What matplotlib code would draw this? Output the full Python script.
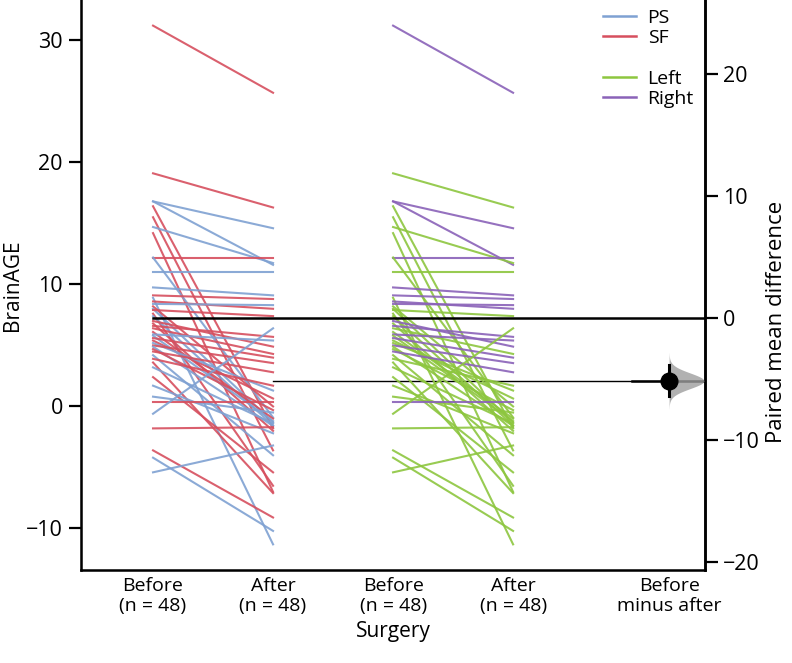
import matplotlib.pyplot as plt
import numpy as np
from matplotlib.lines import Line2D

plt.rcParams['font.family'] = ['Open Sans', 'DejaVu Sans']

# paired BrainAGE values
before = [31.2, 19.1, 16.8, 16.8, 16.4, 15.5, 14.7, 14.2, 12.2, 12.2,
          11.0, 9.75, 9.1, 8.9, 8.6, 8.4, 8.2, 8.0, 7.9, 7.6,
          7.4, 7.0, 6.8, 6.6, 6.4, 6.1, 5.9, 5.8, 5.6, 5.4,
          5.2, 5.0, 4.9, 4.7, 4.5, 4.2, 3.9, 3.6, 3.2, 2.4,
          1.7, 0.8, 0.35, -0.6, -1.8, -3.6, -4.2, -5.4]
after = [25.7, 16.3, 14.6, 11.6, -1.8, -3.6, 11.75, -7.0, 12.2, -0.9,
         11.0, 9.1, 8.8, -11.3, 8.0, 8.3, 0.0, -1.3, 7.4, -6.5,
         -1.55, 4.9, -2.0, 5.7, 4.3, -1.0, 5.4, -1.2, 4.0, 0.65,
         1.3, 3.55, -1.6, -0.3, 2.8, -4.0, 1.7, -7.1, -1.4, -5.4,
         -2.2, -0.5, 0.35, 6.4, -1.7, -9.1, -10.2, -3.2]
surgery = ["SF", "SF", "PS", "PS", "SF", "SF", "PS", "SF", "SF", "PS",
           "PS", "PS", "SF", "PS", "SF", "PS", "SF", "PS", "SF", "SF",
           "PS", "SF", "SF", "SF", "SF", "SF", "PS", "PS", "SF", "SF",
           "PS", "SF", "PS", "SF", "SF", "PS", "SF", "SF", "PS", "SF",
           "PS", "PS", "SF", "PS", "SF", "SF", "PS", "PS"]
side = ["Right", "Left", "Right", "Right", "Left", "Left", "Left", "Left", "Right", "Left",
        "Left", "Right", "Right", "Left", "Right", "Right", "Left", "Left", "Left", "Left",
        "Left", "Right", "Left", "Right", "Left", "Left", "Right", "Left", "Right", "Left",
        "Left", "Right", "Left", "Left", "Right", "Left", "Left", "Left", "Left", "Left",
        "Left", "Left", "Right", "Left", "Left", "Left", "Left", "Left"]

# 95% CI of paired mean difference
ci = [-6.4, -3.9]

colors = {"PS": "#7FA1D2", "SF": "#D64F5E", "Left": "#8DC63F", "Right": "#8A62B8"}
xpos = [0, 1, 2, 3, 4.3]
xlabels = ["Before\n(n = 48)", "After\n(n = 48)", "Before\n(n = 48)",
           "After\n(n = 48)", "Before\nminus after"]

fig = plt.figure(figsize=(7.92, 6.63), dpi=100)
ax = fig.add_axes([0.1023, 0.1403, 0.788, 0.8597])

for b, a, s in zip(before, after, surgery):
    ax.plot([xpos[0], xpos[1]], [b, a], color=colors[s], lw=1.5, alpha=0.9, zorder=3)
for b, a, s in zip(before, after, side):
    ax.plot([xpos[2], xpos[3]], [b, a], color=colors[s], lw=1.5, alpha=0.9, zorder=3)

mb = np.mean(before)
ma = np.mean(after)
ax.set_xlim(-0.6, 4.6)
ax.set_ylim(-13.4, 33.3)
ax.plot([xpos[0], 4.6], [mb, mb], color="black", lw=1.8, zorder=4)
ax.plot([xpos[1], 4.6], [ma, ma], color="black", lw=1.0, zorder=2)
ax.plot([3.99, 4.6], [ma, ma], color="black", lw=1.8, zorder=4)

ax.set_xticks(xpos)
ax.set_xticklabels(xlabels, fontsize=14, linespacing=1.15)
ax.tick_params(axis="x", length=0, pad=5)
ax.tick_params(axis="y", length=9, width=1.6, labelsize=15.5, pad=4)
ax.set_yticks([-10, 0, 10, 20, 30])
ax.set_ylabel("BrainAGE", fontsize=15, labelpad=2)
ax.set_xlabel("Surgery", fontsize=15)
ax.xaxis.set_label_coords(0.5, -0.09)
ax.spines["top"].set_visible(False)
for sp in ["left", "bottom", "right"]:
    ax.spines[sp].set_linewidth(1.8)

# effect size axis
ax2 = ax.twinx()
ax2.set_ylim(-13.4 - mb, 33.3 - mb)
diff = ma - mb
sd = (ci[1] - ci[0]) / 3.92
yy = np.linspace(diff - 3.6 * sd, diff + 3.6 * sd, 200)
ww = 0.29 * np.exp(-0.5 * ((yy - diff) / sd) ** 2)
ax2.fill_betweenx(yy, xpos[4], xpos[4] + ww, color="#9E9E9E", alpha=0.8, lw=0, zorder=3)
ax2.plot([xpos[4], xpos[4]], ci, color="black", lw=2.2, zorder=5)
ax2.plot(xpos[4], diff, "o", color="black", ms=12, zorder=6)
ax2.set_yticks([-20, -10, 0, 10, 20])
ax2.tick_params(axis="y", length=9, width=1.6, labelsize=15.5, pad=4)
ax2.set_ylabel("Paired mean difference", fontsize=16)
ax2.yaxis.set_label_coords(1.098, 0.435)
ax2.spines["top"].set_visible(False)
ax2.spines["right"].set_linewidth(1.8)

handles = [Line2D([], [], color=colors["PS"], lw=1.8, label="PS"),
           Line2D([], [], color=colors["SF"], lw=1.8, label="SF"),
           Line2D([], [], color="none", label=" "),
           Line2D([], [], color=colors["Left"], lw=1.8, label="Left"),
           Line2D([], [], color=colors["Right"], lw=1.8, label="Right")]
ax2.legend(handles=handles, loc="upper right", bbox_to_anchor=(1.01, 1.015),
           frameon=False, fontsize=14, handlelength=1.7, labelspacing=0.12,
           handletextpad=0.6)

fig.savefig("out.png", dpi=100)
